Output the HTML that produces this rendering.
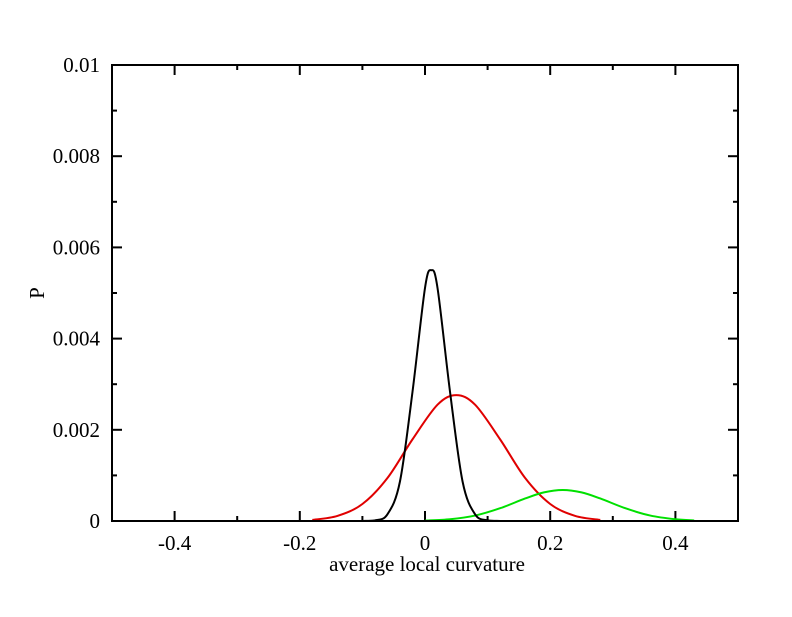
<!DOCTYPE html>
<html><head><meta charset="utf-8"><style>
html,body{margin:0;padding:0;background:#fff;}
svg text{font-family:"Liberation Serif",serif;fill:#000;}
</style></head><body>
<svg id="chart" width="792" height="612" xmlns="http://www.w3.org/2000/svg">
<rect x="0" y="0" width="792" height="612" fill="#fff"/>
<g id="ticks"></g>
<g id="series"></g>
<rect x="112" y="65" width="626" height="456" fill="none" stroke="#000" stroke-width="2"/>
<text x="427" y="571" font-size="21" text-anchor="middle">average local curvature</text>
<text x="0" y="0" font-size="21" text-anchor="middle" transform="translate(44,293) rotate(-90)">P</text>
</svg>
<script>
const xTicks = [-0.4, -0.2, 0, 0.2, 0.4];
const xTickLabels = ["-0.4", "-0.2", "0", "0.2", "0.4"];
const yTicks = [0, 0.002, 0.004, 0.006, 0.008, 0.01];
const yTickLabels = ["0", "0.002", "0.004", "0.006", "0.008", "0.01"];
const blackX = [-0.12,-0.10,-0.08,-0.06,-0.04,-0.02,0,0.01,0.02,0.04,0.06,0.08,0.10,0.12,0.14];
const blackY = [0,0.000001,0.000014,0.000147,0.000866,0.00283,0.00511,0.0055,0.00511,0.00283,0.000866,0.000147,0.000014,0.000001,0];
const redX = [-0.18,-0.14,-0.10,-0.06,-0.02,0.02,0.05,0.08,0.12,0.16,0.20,0.24,0.28];
const redY = [0.000025,0.000111,0.000373,0.000942,0.00179,0.00255,0.00276,0.00255,0.00179,0.000942,0.000373,0.000111,0.000025];
const greenX = [0.0,0.04,0.08,0.12,0.16,0.19,0.22,0.25,0.28,0.32,0.36,0.40,0.43];
const greenY = [0.0000092,0.000038,0.000119,0.00028,0.000494,0.000628,0.00068,0.000628,0.000494,0.00028,0.000119,0.000038,0.000012];

const L=112,R=738,T=65,B=521;
const sx=v=>L+(v+0.5)/1.0*(R-L);
const sy=v=>B-(v/0.01)*(B-T);
const NS="http://www.w3.org/2000/svg";
const tg=document.getElementById('ticks');
function line(g,x1,y1,x2,y2,name){
  const l=document.createElementNS(NS,'line');
  l.setAttribute('x1',x1);l.setAttribute('y1',y1);l.setAttribute('x2',x2);l.setAttribute('y2',y2);
  l.setAttribute('stroke','#000');l.setAttribute('stroke-width','2');
  
  
  g.appendChild(l);
}
function text(g,x,y,s,anchor,name){
  const t=document.createElementNS(NS,'text');
  t.setAttribute('x',x);t.setAttribute('y',y);t.setAttribute('font-size','21');t.setAttribute('text-anchor',anchor);
  t.textContent=s;
  
  
  g.appendChild(t);
}
// minor x ticks every 0.1
for(let i=-4;i<=4;i++){
  const v=i/10, x=sx(v), major=(i%2===0);
  const len=major?10:5;
  line(tg,x,B,x,B-len,'x-tick');
  line(tg,x,T,x,T+len,'x-tick-top');
}
xTicks.forEach((v,i)=>text(tg,sx(v),550,xTickLabels[i],'middle','x-tick-label'));
for(let i=0;i<=10;i++){
  const v=i*0.001, y=sy(v), major=(i%2===0);
  const len=major?10:5;
  line(tg,L,y,L+len,y,'y-tick');
  line(tg,R,y,R-len,y,'y-tick-right');
}
yTicks.forEach((v,i)=>text(tg,100,sy(v)+7,yTickLabels[i],'end','y-tick-label'));

const sg=document.getElementById('series');
function curve(xs,ys,color,name){
  const p=xs.map((x,i)=>[sx(x),sy(ys[i])]);
  let d='M'+p[0][0]+','+p[0][1];
  for(let i=0;i<p.length-1;i++){
    const p0=p[i-1]||p[i],p1=p[i],p2=p[i+1],p3=p[i+2]||p2;
    const c1x=p1[0]+(p2[0]-p0[0])/6,c1y=p1[1]+(p2[1]-p0[1])/6;
    const c2x=p2[0]-(p3[0]-p1[0])/6,c2y=p2[1]-(p3[1]-p1[1])/6;
    d+=' C'+c1x+','+Math.min(c1y,B)+' '+c2x+','+Math.min(c2y,B)+' '+p2[0]+','+p2[1];
  }
  const path=document.createElementNS(NS,'path');
  path.setAttribute('d',d);path.setAttribute('fill','none');path.setAttribute('stroke',color);path.setAttribute('stroke-width','2');
  
  
  sg.appendChild(path);
}
curve(redX,redY,'#e00000','red-series');
curve(greenX,greenY,'#00e000','green-series');
curve(blackX,blackY,'#000000','black-series');
</script>
</body></html>
